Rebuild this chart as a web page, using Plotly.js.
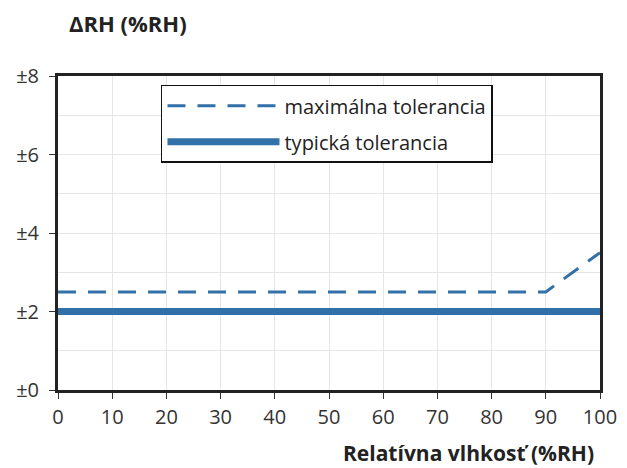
<!DOCTYPE html>
<html>
<head>
<meta charset="utf-8">
<script src="https://cdn.plot.ly/plotly-3.0.1.min.js"></script>
<style>html,body{margin:0;padding:0;background:#fff;}#chart{width:627px;height:468px;}</style>
</head>
<body>
<div id="chart"></div>
<script>
const humidityMax = [0, 90, 100];
const toleranceMax = [2.5, 2.5, 3.5];
const humidityTyp = [0, 100];
const toleranceTyp = [2, 2];
const yTickVals = [0, 2, 4, 6, 8];
const yTickText = ['±0', '±2', '±4', '±6', '±8'];
const seriesNames = ['maximálna tolerancia', 'typická tolerancia'];

const FONT = '"Open Sans", "Noto Sans", sans-serif';
const BLUE = '#3170a8';

const traces = [
  {x: humidityMax, y: toleranceMax, mode: 'lines', name: seriesNames[0], legendgroup: 'a',
   line: {color: BLUE, width: 3, dash: '18px,12px'}},
  {x: humidityTyp, y: toleranceTyp, mode: 'lines', name: seriesNames[1], legendgroup: 'b',
   line: {color: BLUE, width: 7}}
];

const layout = {
  width: 627, height: 468,
  margin: {l: 58, r: 27, t: 76, b: 78},
  paper_bgcolor: '#fff', plot_bgcolor: '#fff',
  font: {family: FONT, size: 20, color: '#333'},
  showlegend: true,
  legend: {x: 0.19, y: 0.972, xanchor: 'left', yanchor: 'top',
    bordercolor: '#111', borderwidth: 1.5, bgcolor: '#fff',
    traceorder: 'grouped', tracegroupgap: 7, itemwidth: 112,
    font: {family: FONT, size: 20, color: '#222'}},
  xaxis: {range: [0, 100], tickvals: [0,10,20,30,40,50,60,70,80,90,100],
    tickfont: {family: FONT, size: 20, color: '#333'},
    showgrid: true, gridcolor: '#e6e6e6', gridwidth: 1,
    showline: true, mirror: true, linecolor: '#222', linewidth: 3,
    ticks: 'outside', ticklen: 6, tickcolor: '#333', tickwidth: 1,
    zeroline: false, fixedrange: true, ticklabelstandoff: 1},
  yaxis: {range: [0, 8], tickvals: yTickVals, ticktext: yTickText,
    tickfont: {family: FONT, size: 20, color: '#333'},
    showgrid: true, gridcolor: '#e6e6e6', gridwidth: 1,
    minor: {dtick: 1, showgrid: true, gridcolor: '#e6e6e6', gridwidth: 1, ticks: ''},
    showline: true, mirror: true, linecolor: '#222', linewidth: 3,
    ticks: 'outside', ticklen: 6, tickcolor: '#333', tickwidth: 1,
    zeroline: false, fixedrange: true, ticklabelstandoff: 6},
  annotations: [
    {text: '<b>ΔRH (%RH)</b>', xref: 'paper', yref: 'paper', x: 0.016, y: 1.17,
     xanchor: 'left', yanchor: 'middle', showarrow: false,
     font: {family: FONT, size: 22, color: '#222'}},
    {text: '<b>Relatívna vlhkosť (%RH)</b>', xref: 'paper', yref: 'paper', x: 0.993, y: -0.2,
     xanchor: 'right', yanchor: 'middle', showarrow: false,
     font: {family: FONT, size: 21, color: '#222'}}
  ]
};

Plotly.newPlot('chart', traces, layout, {displayModeBar: false, staticPlot: true});
</script>
</body>
</html>
